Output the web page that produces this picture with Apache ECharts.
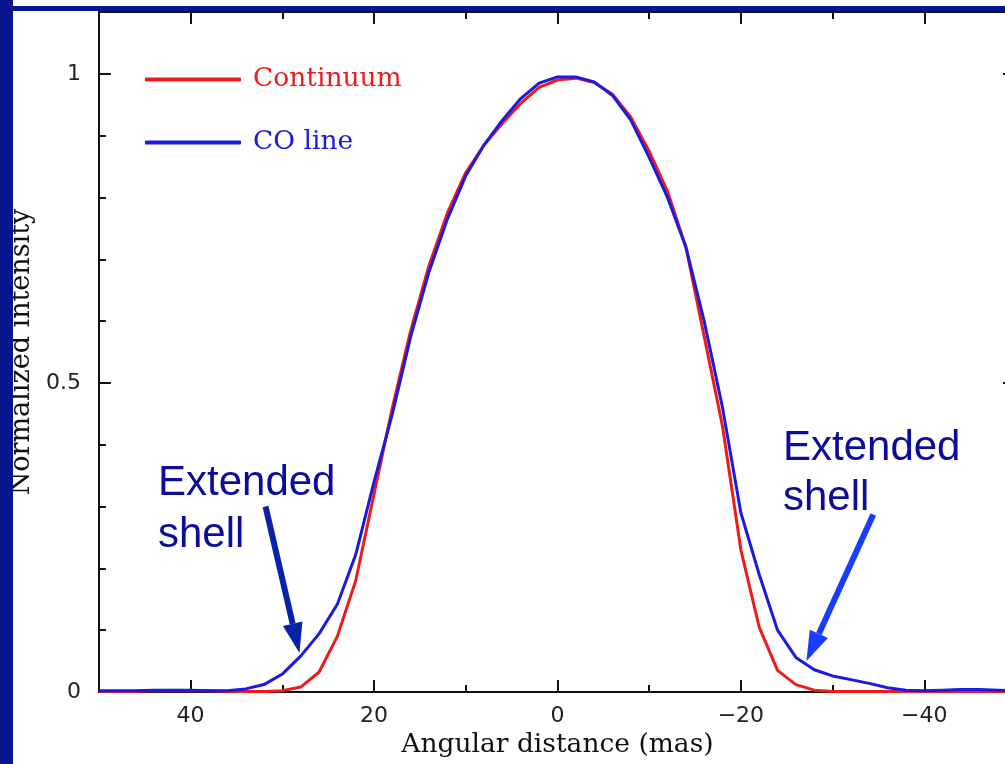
<!DOCTYPE html>
<html>
<head>
<meta charset="utf-8">
<script src="https://cdn.jsdelivr.net/npm/echarts@6.0.0/dist/echarts.min.js"></script>
<style>
  html, body { margin: 0; padding: 0; background: #fff; overflow: hidden; }
  /* the plot frame runs just past the right edge of the window */
  #chart { width: 1020px; height: 764px; }
</style>
</head>
<body>
<div id="chart"></div>
<script>
// angular distance (mas), from +50 down to -50
const offsets = [
  50, 48, 46, 44, 42, 40, 38, 36, 34, 32,
  30, 28, 26, 24, 22, 20, 18, 16, 14, 12,
  10, 8, 6, 4, 2, 0, -2, -4, -6, -8,
  -10, -12, -14, -16, -18, -20, -22, -24, -26, -28,
  -30, -32, -34, -36, -38, -40, -42, -44, -46, -48, -50
]
const continuum = [
  0.001, 0.001, 0.001, 0.002, 0.002, 0.002, 0.002, 0.001, 0.001, 0.001,
  0.002, 0.008, 0.032, 0.09, 0.18, 0.32, 0.46, 0.585, 0.69, 0.775,
  0.84, 0.885, 0.92, 0.952, 0.978, 0.99, 0.993, 0.986, 0.967, 0.93,
  0.875, 0.81, 0.72, 0.575, 0.43, 0.23, 0.105, 0.035, 0.012, 0.003,
  0.001, 0.001, 0.001, 0.001, 0.001, 0.001, 0.001, 0.001, 0.001, 0.001, 0.001
]
const coLine = [
  0.002, 0.002, 0.002, 0.003, 0.003, 0.003, 0.002, 0.002, 0.005, 0.012,
  0.029, 0.058, 0.094, 0.142, 0.222, 0.34, 0.45, 0.575, 0.68, 0.765,
  0.835, 0.885, 0.925, 0.96, 0.985, 0.995, 0.995, 0.987, 0.965, 0.925,
  0.865, 0.80, 0.72, 0.60, 0.46, 0.29, 0.19, 0.10, 0.056, 0.036,
  0.026, 0.02, 0.014, 0.007, 0.003, 0.002, 0.003, 0.004, 0.004, 0.003, 0.002
]
const xMajorTicks = [40, 20, 0, -20, -40]
const xMinorTicks = [30, 10, -10, -30]
const yMajorTicks = [0, 0.5, 1]
const yMinorTicks = [0.1, 0.2, 0.3, 0.4, 0.6, 0.7, 0.8, 0.9]

const RED = '#ee1b1b'
const BLUE = '#1a1ae2'
const NAVY = '#0c0c9a'
const AXIS = '#111'

const chart = echarts.init(document.getElementById('chart'))

function xAxis(position, ticks, len, main) {
  return {
    type: 'value',
    position: position,
    min: -50,
    max: 50,
    inverse: true,
    splitLine: { show: false },
    axisLine: { show: main, onZero: false, lineStyle: { color: AXIS, width: 2 } },
    axisTick: { show: true, inside: true, length: len, customValues: ticks,
      lineStyle: { color: AXIS, width: 2 } },
    axisLabel: {
      show: main && position === 'bottom',
      customValues: ticks,
      margin: 13,
      color: '#222',
      fontFamily: 'DejaVu Sans',
      fontSize: 22,
      formatter: v => (v < 0 ? '\u2212' + (-v) : String(v))
    },
    name: main && position === 'bottom' ? 'Angular distance (mas)' : '',
    nameLocation: 'middle',
    nameGap: 40,
    nameTextStyle: { fontFamily: 'DejaVu Serif', fontSize: 26.5, color: AXIS }
  }
}

function yAxis(position, ticks, len, main) {
  return {
    type: 'value',
    position: position,
    min: 0,
    max: 1.1,
    splitLine: { show: false },
    axisLine: { show: main, onZero: false, lineStyle: { color: AXIS, width: 2 } },
    axisTick: { show: true, inside: true, length: len, customValues: ticks,
      lineStyle: { color: AXIS, width: 2 } },
    axisLabel: {
      show: main && position === 'left',
      customValues: ticks,
      margin: 18,
      color: '#222',
      fontFamily: 'DejaVu Sans',
      fontSize: 22
    },
    name: main && position === 'left' ? 'Normalized intensity' : '',
    nameLocation: 'middle',
    nameRotate: 90,
    nameGap: 53,
    nameTextStyle: { fontFamily: 'DejaVu Serif', fontSize: 27, color: AXIS }
  }
}

const option = {
  backgroundColor: '#fff',
  animation: false,
  grid: { left: 96, right: 4, top: 12, bottom: 68, containLabel: false },
  legend: {
    orient: 'vertical',
    left: 140,
    top: 61,
    icon: 'roundRect',
    itemWidth: 96,
    itemHeight: 4,
    itemGap: 36,
    textStyle: { fontFamily: 'DejaVu Serif', fontSize: 26.5, lineHeight: 26, padding: [0, 0, 0, 7] },
    data: [
      { name: 'Continuum', textStyle: { color: RED } },
      { name: 'CO line', textStyle: { color: BLUE } }
    ]
  },
  xAxis: [
    xAxis('bottom', xMajorTicks, 12, true),
    xAxis('bottom', xMinorTicks, 7, false),
    xAxis('top', xMajorTicks, 12, true),
    xAxis('top', xMinorTicks, 7, false)
  ],
  yAxis: [
    yAxis('left', yMajorTicks, 12, true),
    yAxis('left', yMinorTicks, 7, false),
    yAxis('right', yMajorTicks, 13, true),
    yAxis('right', yMinorTicks, 7, false)
  ],
  series: [
    {
      name: 'Continuum',
      type: 'line',
      showSymbol: false,
      color: RED,
      lineStyle: { width: 3, color: RED },
      data: offsets.map((x, i) => [x, continuum[i]])
    },
    {
      name: 'CO line',
      type: 'line',
      showSymbol: false,
      color: BLUE,
      lineStyle: { width: 3, color: BLUE },
      data: offsets.map((x, i) => [x, coLine[i]])
    }
  ]
}
chart.setOption(option)

// annotation arrows, in data coordinates
function arrow(from, to, color) {
  const p0 = chart.convertToPixel({ seriesIndex: 0 }, from)
  const p1 = chart.convertToPixel({ seriesIndex: 0 }, to)
  const dx = p1[0] - p0[0]
  const dy = p1[1] - p0[1]
  const d = Math.sqrt(dx * dx + dy * dy)
  const ux = dx / d
  const uy = dy / d
  const bx = p1[0] - ux * 30
  const by = p1[1] - uy * 30
  return [
    { type: 'line', shape: { x1: p0[0], y1: p0[1], x2: bx, y2: by },
      style: { stroke: color, lineWidth: 6 }, z: 20 },
    { type: 'polygon',
      shape: { points: [p1, [bx - uy * 10, by + ux * 10], [bx + uy * 10, by - ux * 10]] },
      style: { fill: color }, z: 20 }
  ]
}

chart.setOption({
  graphic: [
    { type: 'rect', shape: { x: 0, y: 0, width: 13, height: 764 }, style: { fill: '#07168f' }, z: 30 },
    { type: 'rect', shape: { x: 0, y: 6, width: 1020, height: 5 }, style: { fill: '#07168f' }, z: 30 },
    { type: 'text', x: 158, y: 457, z: 20,
      style: { text: 'Extended\nshell', fontFamily: 'Liberation Sans', fontSize: 42, lineHeight: 52, fill: NAVY } },
    { type: 'text', x: 783, y: 423, z: 20,
      style: { text: 'Extended\nshell', fontFamily: 'Liberation Sans', fontSize: 42, lineHeight: 50, fill: NAVY } },
    ...arrow([31.83, 0.30], [28.13, 0.063], '#0a22a6'),
    ...arrow([-34.44, 0.287], [-27.15, 0.05], '#1a3cff')
  ]
})
</script>
</body>
</html>
